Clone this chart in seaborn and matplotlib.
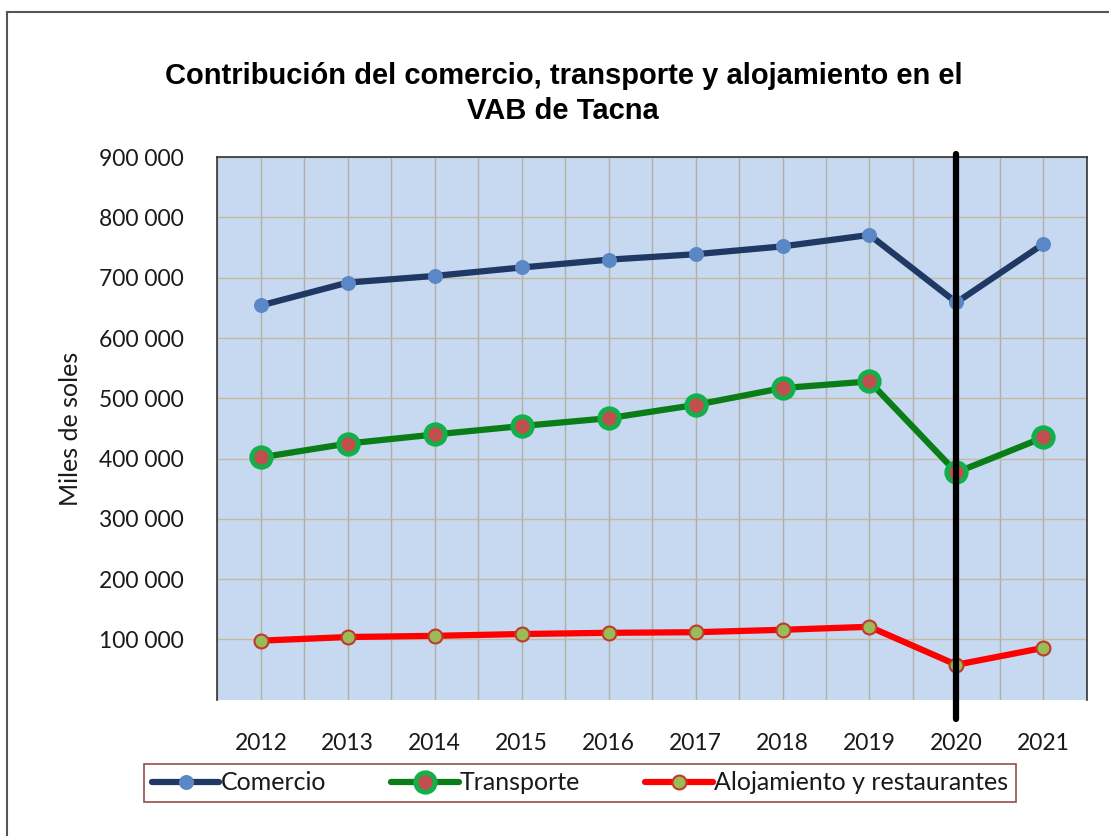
import pandas as pd
import numpy as np
import seaborn as sns
import matplotlib.pyplot as plt
from matplotlib import font_manager as fm
from matplotlib.ticker import FuncFormatter, MultipleLocator
from matplotlib.patches import Rectangle

# values (miles de soles)
years = [2012, 2013, 2014, 2015, 2016, 2017, 2018, 2019, 2020, 2021]
comercio = [654000, 692000, 703000, 717000, 730000, 739000, 752000, 771000, 659000, 756000]
transporte = [402000, 425000, 440000, 454000, 467000, 489000, 517000, 528000, 377000, 435000]
alojamiento = [98000, 104000, 106000, 109000, 111000, 112000, 116000, 121000, 58000, 86000]
y_ticks = [100000, 200000, 300000, 400000, 500000, 600000, 700000, 800000, 900000]

df = pd.DataFrame({"anio": years, "Comercio": comercio, "Transporte": transporte,
                   "Alojamiento y restaurantes": alojamiento})


def first_font(names):
    for n in names:
        try:
            fm.findfont(fm.FontProperties(family=n), fallback_to_default=False)
            return n
        except Exception:
            pass
    return "DejaVu Sans"


title_font = first_font(["Liberation Sans Narrow", "Arial Narrow", "Liberation Sans"])

sns.set_theme(style="white")
plt.rcParams["font.family"] = ["Lato", "DejaVu Sans"]

fig = plt.figure(figsize=(11.09, 8.36), dpi=100)
ax = fig.add_axes([0.196, 0.163, 0.784, 0.649])
ax.set_facecolor("#c6d9f0")

styles = {
    "Comercio": dict(color="#1f3864", marker="o", markersize=10, markerfacecolor="#5a87c5",
                     markeredgecolor="#5a87c5"),
    "Transporte": dict(color="#0a7d16", marker="o", markersize=14, markerfacecolor="#c0504d",
                       markeredgecolor="#12b04a", markeredgewidth=3.5),
    "Alojamiento y restaurantes": dict(color="#ff0000", marker="o", markersize=10,
                                       markerfacecolor="#9bbb59", markeredgecolor="#c0392b",
                                       markeredgewidth=1.5),
}
for name, st in styles.items():
    sns.lineplot(data=df, x="anio", y=name, ax=ax, linewidth=4.5, label=name, zorder=3, **st)

ax.set_xlim(2011.5, 2021.5)
ax.set_ylim(0, 900000)
ax.set_xticks(years)
ax.set_xticklabels([str(y) for y in years])
ax.xaxis.set_minor_locator(MultipleLocator(0.5))
ax.set_yticks(y_ticks)
ax.yaxis.set_major_formatter(FuncFormatter(lambda v, p: f"{int(v):,}".replace(",", " ")))
ax.grid(True, which="major", axis="y", color="#c8b89a", linewidth=1)
ax.grid(True, which="both", axis="x", color="#b0b0a8", linewidth=1)
ax.tick_params(axis="both", which="both", length=0, labelsize=16.5, colors="#1a1a1a")
ax.tick_params(axis="x", pad=24)
ax.tick_params(axis="y", pad=24)
ax.set_xlabel("")
ax.set_ylabel("Miles de soles", fontsize=18, labelpad=12, color="#1a1a1a")

for side in ["left", "top", "right"]:
    ax.spines[side].set_color("#333333")
    ax.spines[side].set_linewidth(1.2)
ax.spines["bottom"].set_visible(False)

# vertical marker at 2020
ax.axvline(2020, ymin=-0.035, ymax=1.005, color="black", linewidth=4.5, clip_on=False, zorder=4)

fig.text(0.508, 0.888, "Contribución del comercio, transporte y alojamiento en el\nVAB de Tacna",
         ha="center", va="center", fontsize=21, fontweight="bold", color="black",
         family=[title_font, "DejaVu Sans"], linespacing=1.3)

leg = ax.legend(loc="upper center", bbox_to_anchor=(0.417, -0.118), ncol=3, frameon=True,
                fontsize=18, handlelength=2.7, handletextpad=0.05, columnspacing=2.6,
                borderpad=0.3, borderaxespad=0, fancybox=False)
leg.get_frame().set_edgecolor("#7a1f1f")
leg.get_frame().set_linewidth(1.2)
for t in leg.get_texts():
    t.set_color("#1a1a1a")

# outer chart border
fig.patches.append(Rectangle((0.006, -0.02), 1.2, 1.006, transform=fig.transFigure,
                             fill=False, edgecolor="#555555", linewidth=1.5))

fig.savefig("out.png", dpi=100)
